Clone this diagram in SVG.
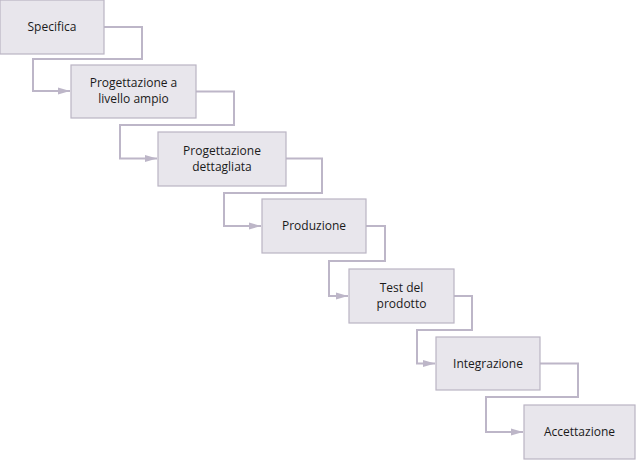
<svg xmlns="http://www.w3.org/2000/svg" width="636" height="460" viewBox="0 0 636 460">
<defs>
<style>
.box{fill:#e8e6ec;stroke:#bab4c4;stroke-width:1.2}
.lbl{font-family:"Open Sans","DejaVu Sans",sans-serif;font-size:12px;fill:#1a1a1a;text-anchor:middle}
.con{fill:none;stroke:#bdb6c8;stroke-width:2}
</style>
<marker id="arr" viewBox="0 0 10 10" refX="10" refY="5" markerWidth="6" markerHeight="6" orient="auto" markerUnits="strokeWidth">
<path d="M0,2 L10,5 L0,8 Z" fill="#bdb6c8"/>
</marker>
</defs>
<rect width="636" height="460" fill="#ffffff"/>
<g id="connectors">
<path class="con" marker-end="url(#arr)" d="M104,27 H142 V59 H33 V91 H70"/>
<path class="con" marker-end="url(#arr)" d="M196,91.5 H234 V125 H120 V158.5 H157"/>
<path class="con" marker-end="url(#arr)" d="M286,158.5 H322 V193 H224 V226 H261"/>
<path class="con" marker-end="url(#arr)" d="M366,226 H385 V261 H329 V296 H348"/>
<path class="con" marker-end="url(#arr)" d="M454,296 H472 V330 H417 V363.5 H435"/>
<path class="con" marker-end="url(#arr)" d="M540,363.5 H578 V397 H486 V432 H523"/>
</g>
<g id="n1"><rect class="box" x="0" y="0" width="104" height="54"/><text class="lbl" x="52" y="31">Specifica</text></g>
<g id="n2"><rect class="box" x="71" y="65" width="125" height="53"/><text class="lbl" x="133.5" y="87">Progettazione a</text><text class="lbl" x="133.5" y="103">livello ampio</text></g>
<g id="n3"><rect class="box" x="158" y="132" width="128" height="54"/><text class="lbl" x="222" y="155">Progettazione</text><text class="lbl" x="222" y="171">dettagliata</text></g>
<g id="n4"><rect class="box" x="262" y="199" width="104" height="54"/><text class="lbl" x="314" y="230">Produzione</text></g>
<g id="n5"><rect class="box" x="349" y="269" width="105" height="54"/><text class="lbl" x="401.5" y="292">Test del</text><text class="lbl" x="401.5" y="308">prodotto</text></g>
<g id="n6"><rect class="box" x="436" y="337" width="104" height="53"/><text class="lbl" x="488" y="368">Integrazione</text></g>
<g id="n7"><rect class="box" x="524" y="405" width="111" height="54"/><text class="lbl" x="579.5" y="436">Accettazione</text></g>
</svg>
